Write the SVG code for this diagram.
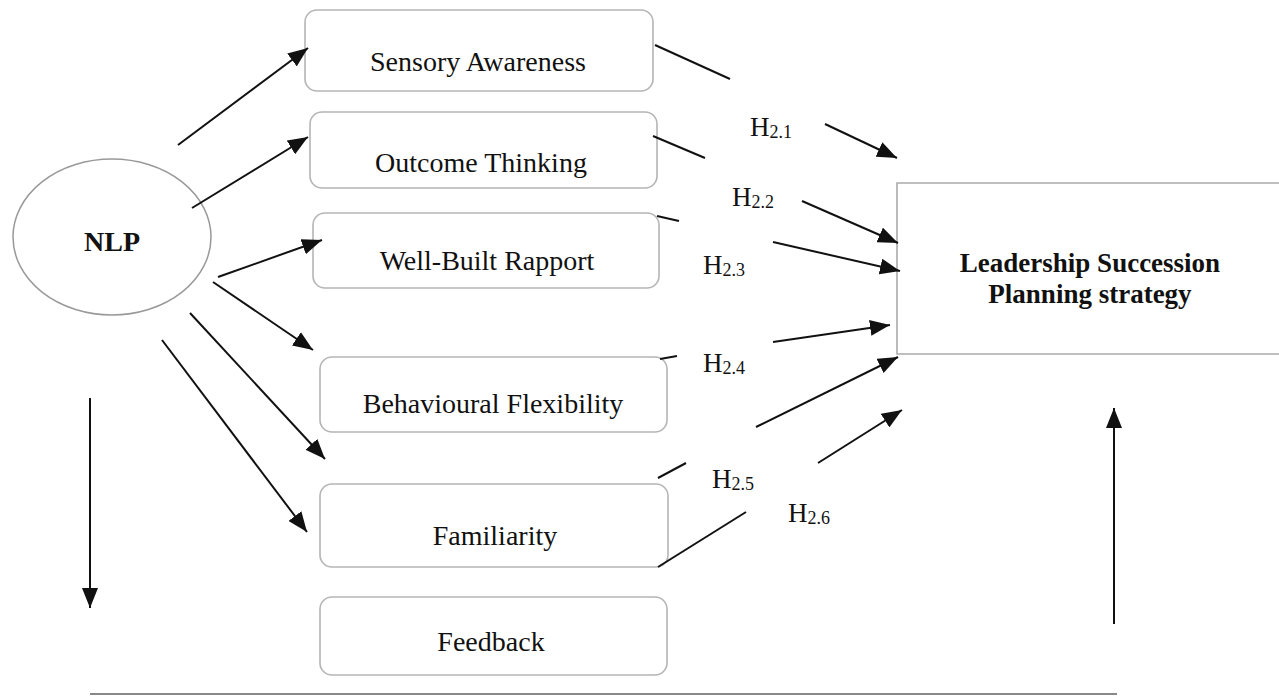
<svg xmlns="http://www.w3.org/2000/svg" width="1279" height="698" viewBox="0 0 1279 698">
<style>
.box{fill:#fff;stroke:#b5b5b5;stroke-width:1.6}
.lbl{font-family:"Liberation Serif","Times New Roman",serif;font-size:28px;fill:#111;text-anchor:middle}
.bold{font-weight:bold;font-size:27px}
.h{font-family:"Liberation Serif","Times New Roman",serif;font-size:27px;fill:#111}
.sub{font-size:18px}
.c{stroke:#111;stroke-width:2;fill:none}
.ca{stroke:#111;stroke-width:2;fill:none;marker-end:url(#ah)}
</style>
<defs>
<marker id="ah" markerWidth="20" markerHeight="16" refX="20" refY="8" orient="auto" markerUnits="userSpaceOnUse" viewBox="0 0 20 16">
<path d="M0,0 L20,8 L0,16 z" fill="#111"/>
</marker>
</defs>
<rect width="1279" height="698" fill="#fff"/>

<g id="nlp">
<ellipse cx="112" cy="237" rx="99" ry="78" fill="#fff" stroke="#999" stroke-width="1.5"/>
<text class="lbl bold" x="112" y="251" style="font-size:28px">NLP</text>
</g>

<g id="sensory">
<rect class="box" x="305" y="10" width="348" height="81" rx="12"/>
<text class="lbl" x="478" y="71">Sensory Awareness</text>
</g>
<g id="outcome">
<rect class="box" x="310" y="112" width="347" height="76" rx="12"/>
<text class="lbl" x="481" y="172">Outcome Thinking</text>
</g>
<g id="rapport">
<rect class="box" x="313" y="213" width="346" height="75" rx="12"/>
<text class="lbl" x="487" y="270">Well-Built Rapport</text>
</g>
<g id="flexibility">
<rect class="box" x="320" y="357" width="347" height="75" rx="12"/>
<text class="lbl" x="493" y="413">Behavioural Flexibility</text>
</g>
<g id="familiarity">
<rect class="box" x="320" y="484" width="348" height="83" rx="12"/>
<text class="lbl" x="495" y="545">Familiarity</text>
</g>
<g id="feedback">
<rect class="box" x="320" y="597" width="347" height="78" rx="12"/>
<text class="lbl" x="491" y="651">Feedback</text>
</g>

<g id="leadership">
<path d="M1279,183 H897 V354 H1279" fill="#fff" stroke="#aaa" stroke-width="1.6"/>
<text class="lbl bold" x="1090" y="272">Leadership Succession</text>
<text class="lbl bold" x="1090" y="303">Planning strategy</text>
</g>

<g id="connectors">
<line class="ca" x1="178" y1="145" x2="308" y2="48"/>
<line class="ca" x1="192" y1="208" x2="308" y2="137"/>
<line class="ca" x1="218" y1="277" x2="322" y2="240"/>
<line class="ca" x1="213" y1="282" x2="313" y2="350"/>
<line class="ca" x1="190" y1="313" x2="325" y2="459"/>
<line class="ca" x1="162" y1="340" x2="307" y2="532"/>
<line class="ca" x1="90" y1="398" x2="90" y2="608"/>
<line class="ca" x1="1114" y1="624" x2="1114" y2="408"/>
<line x1="90" y1="694" x2="1117" y2="694" stroke="#888" stroke-width="2"/>

<line class="c" x1="655" y1="45" x2="730" y2="79"/>
<line class="ca" x1="825" y1="124" x2="897" y2="158"/>
<line class="c" x1="653" y1="136" x2="705" y2="158"/>
<line class="ca" x1="802" y1="201" x2="898" y2="243"/>
<line class="c" x1="657" y1="216" x2="679" y2="221"/>
<line class="ca" x1="773" y1="242" x2="900" y2="271"/>
<line class="c" x1="660" y1="359" x2="677" y2="356"/>
<line class="ca" x1="773" y1="342" x2="890" y2="325"/>
<line class="c" x1="658" y1="478" x2="686" y2="463"/>
<line class="ca" x1="756" y1="427" x2="898" y2="357"/>
<line class="c" x1="658" y1="567" x2="746" y2="512"/>
<line class="ca" x1="818" y1="463" x2="902" y2="410"/>
</g>

<g id="labels">
<text class="h" x="750" y="136">H<tspan class="sub" dy="2">2.1</tspan></text>
<text class="h" x="732" y="206">H<tspan class="sub" dy="2">2.2</tspan></text>
<text class="h" x="703" y="274">H<tspan class="sub" dy="2">2.3</tspan></text>
<text class="h" x="703" y="372">H<tspan class="sub" dy="2">2.4</tspan></text>
<text class="h" x="712" y="488">H<tspan class="sub" dy="2">2.5</tspan></text>
<text class="h" x="788" y="522">H<tspan class="sub" dy="2">2.6</tspan></text>
</g>
</svg>
